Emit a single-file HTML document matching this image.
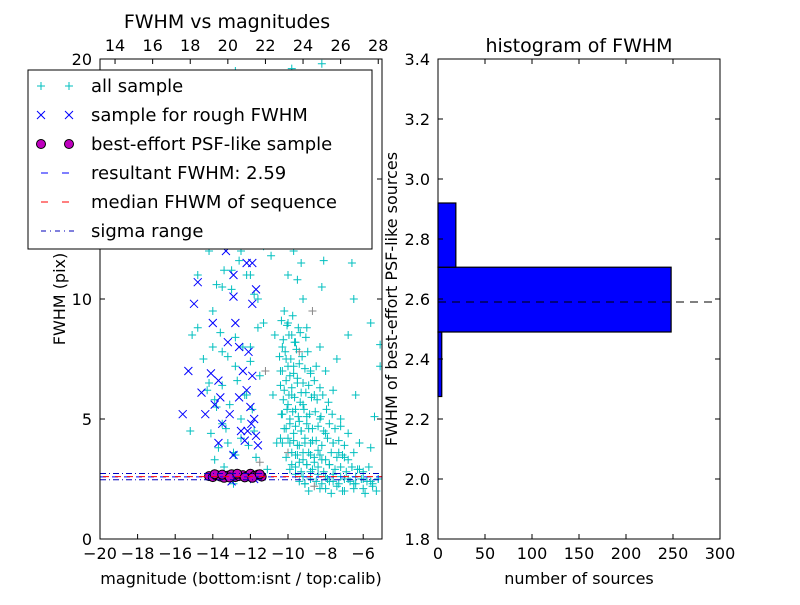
<!DOCTYPE html>
<html><head><meta charset="utf-8"><style>
body{margin:0;background:#fff}
svg{font-family:"DejaVu Sans","Liberation Sans",sans-serif}
</style></head><body>
<svg id="c" width="800" height="600" viewBox="0 0 800 600"></svg>
<script>
const cyanX=[-10.2,-10,-9.8,-10.3,-9.6,-10.1,-9.7,-9.4,-10.4,-9.9,-9.5,-10.2,-9.8,-9.3,-10,-9.6,-9.2,-10.3,-9.9,-9.4,-9,-10.1,-9.7,-9.3,-8.9,-10.4,-9.9,-9.5,-9.1,-8.7,-10,-9.6,-9.2,-8.8,-8.4,-9.8,-9.4,-9,-8.6,-8.2,-7.8,-9.6,-9.2,-8.8,-8.4,-8,-7.6,-7.2,-6.8,-6.4,-6,-5.6,-5.2,-8.6,-8,-7.4,-7,-6.5,-6,-5.5,-7.8,-9.1,-8.3,-8.6,-8,-7.6,-7.3,-7,-6.6,-6.2,-8.8,-9,-9.2,-9.5,-10,-9.3,-8.7,-8.3,-8,-7.6,-7.2,-6.8,-6.2,-5.6,-5.4,-6.4,-7.4,-8.2,-10.6,-9.9,-9.1,-8.4,-10.8,-10.2,-9.4,-8.6,-7.8,-11,-10.4,-9.6,-8.8,-7.6,-7,-6.6,-6.5,-5.6,-5.1,-5.1,-6.8,-10.8,-10.7,-10.6,-14.8,-14.5,-14.2,-13.8,-13.5,-13.2,-12.8,-12.5,-12.2,-11.8,-11.5,-13.9,-13.4,-14,-13.5,-13,-12.5,-12,-11.6,-11.3,-14.2,-13.8,-13.2,-12.7,-12.1,-11.6,-13.5,-12.8,-12,-11.2,-14.6,-14.3,-11.4,-11.2,-12,-12.8,-13.5,-14.8,-15.1,-15.2,-11.1,-12.9];
const cyanY=[9.5,9,8.5,8,8.2,7.5,7.2,7.8,7,6.8,6.5,6.2,6,6.1,5.6,5.4,5.6,5.2,5,4.9,5.1,4.6,4.4,4.5,4.6,4.2,4,3.9,4,4.1,3.6,3.5,3.6,3.5,3.7,3.1,3.2,3.1,3.2,3.3,3.1,2.7,2.6,2.8,2.7,2.6,2.7,2.6,2.5,2.6,2.5,2.4,2.5,2.2,2.1,2.2,2,2.3,2.1,2.2,2.4,2.3,5,6,4.4,4,3.6,3.4,3,2.9,7,8.8,10,10.8,11,11.5,9.5,8,7,6.2,5,4.4,4,3.8,5.1,6,7.5,10.5,12.5,13,13.2,12.8,14,15,15.5,16,14.8,16.5,17.5,18,18.7,17,13.5,11.5,10,9,8.1,7.2,8.5,6,8.5,4,8.8,7.5,6.5,5.5,4.8,4,3.5,5,6,4.5,3.2,3.3,3,9.5,10.5,11.2,12,11,10,9,12,13.5,14.5,15.5,16.5,17.5,18.5,19.5,19,18.5,15,17,13,7,8,7.2,7.8,11,8.5,4.5,2.9,2.3];
const denseX=[-10.35,-10.05,-9.75,-9.45,-10.25,-9.95,-9.65,-9.35,-9.05,-10.45,-10.15,-9.85,-9.55,-9.25,-8.95,-10.3,-10,-9.7,-9.4,-9.1,-8.8,-8.5,-10.4,-10.1,-9.8,-9.5,-9.2,-8.9,-8.6,-8.3,-10.25,-9.95,-9.65,-9.35,-9.05,-8.75,-8.45,-8.15,-7.85,-10.35,-10.05,-9.75,-9.45,-9.15,-8.85,-8.55,-8.25,-7.95,-7.65,-10.2,-9.9,-9.6,-9.3,-9,-8.7,-8.4,-8.1,-7.8,-7.5,-7.2,-10.3,-10,-9.7,-9.4,-9.1,-8.8,-8.5,-8.2,-7.9,-7.6,-7.3,-7,-10.1,-9.8,-9.5,-9.2,-8.9,-8.6,-8.3,-8,-7.7,-7.4,-7.1,-6.8,-6.5,-9.9,-9.6,-9.3,-9,-8.7,-8.4,-8.1,-7.8,-7.5,-7.2,-6.9,-6.6,-6.3,-6,-5.7,-9.4,-9.1,-8.8,-8.5,-8.2,-7.9,-7.6,-7.3,-7,-6.7,-6.4,-6.1,-5.8,-5.5,-5.2,-8.9,-8.3,-7.7,-7.1,-6.5,-5.9,-5.3,-14.1,-13.7,-13.3,-12.9,-12.5,-12.1,-11.7,-14.3,-13.9,-13.5,-13.1,-12.7,-12.3,-11.9,-11.5,-14.0,-13.6,-13.2,-12.8,-12.4,-12.0,-11.6,-13.8,-13.4,-13.0,-12.6,-12.2,-11.8,-11.3,-10.9,-10.5,-10.1,-9.7,-9.3,-8.9,-8.5,-8.1,-10.7,-10.3,-9.9,-9.5,-9.1,-8.7,-8.3,-7.9,-10.6,-9.8,-9.0,-8.2,-7.4];
const denseY=[9.1,8.9,9.3,8.8,8.3,8.5,8.2,8.6,8.4,7.6,7.8,7.5,7.9,7.6,7.8,7.0,7.2,6.9,7.3,7.1,6.9,7.2,6.4,6.6,6.3,6.7,6.5,6.4,6.6,6.3,5.8,6.0,5.9,5.7,6.1,5.9,5.8,6.0,5.7,5.2,5.4,5.3,5.1,5.4,5.2,5.3,5.1,5.4,5.2,4.6,4.8,4.7,4.5,4.8,4.6,4.7,4.5,4.8,4.6,4.7,4.0,4.2,4.1,3.9,4.2,4.0,4.1,3.9,4.2,4.0,4.1,3.9,3.4,3.6,3.5,3.3,3.6,3.4,3.5,3.3,3.6,3.4,3.5,3.3,3.6,2.9,3.0,2.8,3.1,2.9,3.0,2.8,3.1,2.9,3.0,2.8,3.0,2.9,2.8,3.0,2.4,2.3,2.5,2.4,2.3,2.5,2.4,2.3,2.5,2.4,2.3,2.5,2.4,2.3,2.5,2.0,2.1,1.9,2.0,2.1,1.9,2.0,4.4,3.8,4.6,3.6,4.2,3.9,3.4,6.2,5.8,6.4,5.6,6.6,6.0,5.4,6.8,8.0,8.6,7.6,8.4,8.0,7.4,8.8,10.6,11.2,10.4,11.6,11.0,10.2,12.2,11.8,12.6,13.4,12.0,14.2,13.6,12.4,11.6,13.8,14.6,16.2,17.0,16.4,15.8,16.8,15.4,19.0,19.6,19.2,19.8,18.4];
const blueX=[-15.6,-15.3,-15,-14.8,-14.6,-14.4,-14.1,-13.9,-13.7,-13.5,-13.2,-12.9,-12.8,-12.6,-12.4,-12.2,-12,-11.8,-11.7,-11.6,-11.9,-11.7,-12.2,-13.3,-14,-12.6,-12.4,-13.7,-12.9,-12.5,-11.9,-12.1,-12.6,-12.9,-11.9,-13,-11.8,-13.1,-12.3,-11.95,-12.15,-13.6];
const blueY=[5.2,7,9.8,10.7,6.1,5.2,6.9,5.6,6.6,4.8,8.2,10.1,9,8,7,6.2,5.5,5,4.3,3.9,9.8,10.4,11.5,12,9,12.5,12.3,4,3.5,4.5,6.8,7.8,5.9,11,11.5,2.4,2.5,5.2,4.1,4.8,4.5,5.9];
const magX=[-14.2,-14,-13.8,-13.6,-13.4,-13.2,-13,-12.8,-12.6,-12.4,-12.2,-12,-11.8,-11.6,-11.4,-13.9,-13.5,-13.1,-12.7,-12.3,-11.9,-11.5];
const magY=[2.62,2.58,2.66,2.6,2.55,2.64,2.7,2.58,2.62,2.66,2.6,2.72,2.63,2.68,2.6,2.7,2.68,2.56,2.72,2.57,2.55,2.7];
const resultFWHM=2.59, medianFWHM=2.6, sigmaLo=2.47, sigmaHi=2.73;
const binEdges=[2.275,2.49,2.706,2.92];
const binCounts=[4,248,19];
const leftXTicks=[-20,-18,-16,-14,-12,-10,-8,-6];
const leftYTicks=[0,5,10,15,20];
const topTicks=[14,16,18,20,22,24,26,28];
const rightYTicks=[1.8,2.0,2.2,2.4,2.6,2.8,3.0,3.2,3.4];
const rightXTicks=[0,50,100,150,200,250,300];

const S=document.getElementById('c'),NS='http://www.w3.org/2000/svg';
function el(t,a,p){const e=document.createElementNS(NS,t);for(const k in a)e.setAttribute(k,a[k]);(p||S).appendChild(e);return e;}
function txt(s,x,y,a,p){const e=el('text',Object.assign({x:x,y:y,'font-size':16,fill:'#000'},a),p);e.textContent=s;return e;}
const L={x0:100,x1:382,y0:59,y1:539};
const lx=v=>L.x0+(v+20)/15*(L.x1-L.x0), ly=v=>L.y1-v/20*(L.y1-L.y0);
const tx=t=>lx(t-33.2);
const gL=el('g',{});

const clip=el('clipPath',{id:'cl'});el('rect',{x:L.x0,y:L.y0,width:L.x1-L.x0,height:L.y1-L.y0},clip);
const gP=el('g',{'clip-path':'url(#cl)'},gL);
function plus(x,y,col){const m=el('path',{d:`M${x-4},${y}h8M${x},${y-4}v8`,stroke:col,'stroke-width':1},gP);
}
for(let i=0;i<cyanX.length;i++)plus(lx(cyanX[i]),ly(cyanY[i]),i%23==7?'#888':'#00bfbf');
for(let i=0;i<denseX.length;i++)plus(lx(denseX[i]),ly(denseY[i]),'#00bfbf');
for(let i=0;i<blueX.length;i++){const x=lx(blueX[i]),y=ly(blueY[i]);const m=el('path',{d:`M${x-4},${y-4}l8,8M${x-4},${y+4}l8,-8`,stroke:'#0000ff','stroke-width':1},gP);
}
for(let i=0;i<magX.length;i++){const m=el('circle',{cx:lx(magX[i]),cy:ly(magY[i]),r:4.5,fill:'#bf00bf',stroke:'#000','stroke-width':1},gP);
}
let ln=el('line',{x1:L.x0,x2:L.x1,y1:ly(resultFWHM),y2:ly(resultFWHM),stroke:'#0000ff','stroke-dasharray':'6,6'},gP);

ln=el('line',{x1:L.x0+3,x2:L.x1,y1:ly(medianFWHM),y2:ly(medianFWHM),stroke:'#ff0000','stroke-dasharray':'6,6'},gP);

[sigmaLo,sigmaHi].forEach(v=>{const l=el('line',{x1:L.x0,x2:L.x1,y1:ly(v),y2:ly(v),stroke:'#0000bf','stroke-dasharray':'6,3,1,3'},gP);
});
el('rect',{x:L.x0,y:L.y0,width:L.x1-L.x0,height:L.y1-L.y0,fill:'none',stroke:'#000'},gL);
leftXTicks.forEach(t=>{const x=lx(t);el('path',{d:`M${x},${L.y1}v-5`,stroke:'#000'},gL);txt('\u2212'+Math.abs(t),x,L.y1+20,{'text-anchor':'middle'},gL);});
leftYTicks.forEach(t=>{const y=ly(t);el('path',{d:`M${L.x0},${y}h5M${L.x1},${y}h-5`,stroke:'#000'},gL);txt(t,L.x0-8,y+6,{'text-anchor':'end'},gL);});
topTicks.forEach(t=>{const x=tx(t);el('path',{d:`M${x},${L.y0}v5`,stroke:'#000'},gL);txt(t,x,L.y0-8,{'text-anchor':'middle'},gL);});
let a=txt('FWHM vs magnitudes',227,28,{'text-anchor':'middle','font-size':19},gL);
a=txt('magnitude (bottom:isnt / top:calib)',241,584,{'text-anchor':'middle'},gL);
a=txt('FWHM (pix)',0,0,{'text-anchor':'middle',transform:'translate(65,299) rotate(-90)'},gL);
const lg=el('g',{});
el('rect',{x:28,y:70,width:344,height:179,fill:'#fff',stroke:'#000'},lg);
const labels=['all sample','sample for rough FWHM','best-effort PSF-like sample','resultant FWHM: 2.59','median FHWM of sequence','sigma range'];
labels.forEach((s,i)=>{const y=86+i*29;const ge=el('g',{},lg);
[41,69].forEach(x=>{if(i==0)el('path',{d:`M${x-4},${y}h8M${x},${y-4}v8`,stroke:'#00bfbf'},ge);
if(i==1)el('path',{d:`M${x-4},${y-4}l8,8M${x-4},${y+4}l8,-8`,stroke:'#00f'},ge);
if(i==2)el('circle',{cx:x,cy:y,r:4.5,fill:'#bf00bf',stroke:'#000'},ge);});
if(i==3)el('line',{x1:41,x2:75,y1:y,y2:y,stroke:'#00f','stroke-dasharray':'7,14'},ge);
if(i==4)el('line',{x1:41,x2:75,y1:y,y2:y,stroke:'#f00','stroke-dasharray':'7,14'},ge);
if(i==5)el('line',{x1:41,x2:75,y1:y,y2:y,stroke:'#00b','stroke-dasharray':'5,4,1,4'},ge);
txt(s,91,y+6,{'font-size':18},ge);});
const R={x0:438,x1:720,y0:59,y1:539};
const rx=v=>R.x0+v/300*(R.x1-R.x0), ry=v=>R.y1-(v-1.8)/1.6*(R.y1-R.y0);
const gR=el('g',{});
binCounts.forEach((c,i)=>{const b=el('rect',{x:rx(0),y:ry(binEdges[i+1]),width:rx(c)-rx(0),height:ry(binEdges[i])-ry(binEdges[i+1]),fill:'#0000ff',stroke:'#000','stroke-width':1.2},gR);
});
ln=el('line',{x1:R.x0,x2:R.x1-6,y1:ry(resultFWHM),y2:ry(resultFWHM),stroke:'#000','stroke-dasharray':'8,6'},gR);

el('rect',{x:R.x0,y:R.y0,width:R.x1-R.x0,height:R.y1-R.y0,fill:'none',stroke:'#000'},gR);
rightXTicks.forEach(t=>{const x=rx(t);el('path',{d:`M${x},${R.y1}v-5M${x},${R.y0}v5`,stroke:'#000'},gR);txt(t,x,R.y1+20,{'text-anchor':'middle'},gR);});
rightYTicks.forEach(t=>{const y=ry(t);el('path',{d:`M${R.x0},${y}h5M${R.x1},${y}h-5`,stroke:'#000'},gR);txt(t.toFixed(1),R.x0-8,y+6,{'text-anchor':'end'},gR);});
a=txt('histogram of FWHM',579,52,{'text-anchor':'middle','font-size':19},gR);
a=txt('number of sources',579,584,{'text-anchor':'middle'},gR);
a=txt('FWHM of best-effort PSF-like sources',0,0,{'text-anchor':'middle',transform:'translate(397,299) rotate(-90)'},gR);
</script>
</body></html>
